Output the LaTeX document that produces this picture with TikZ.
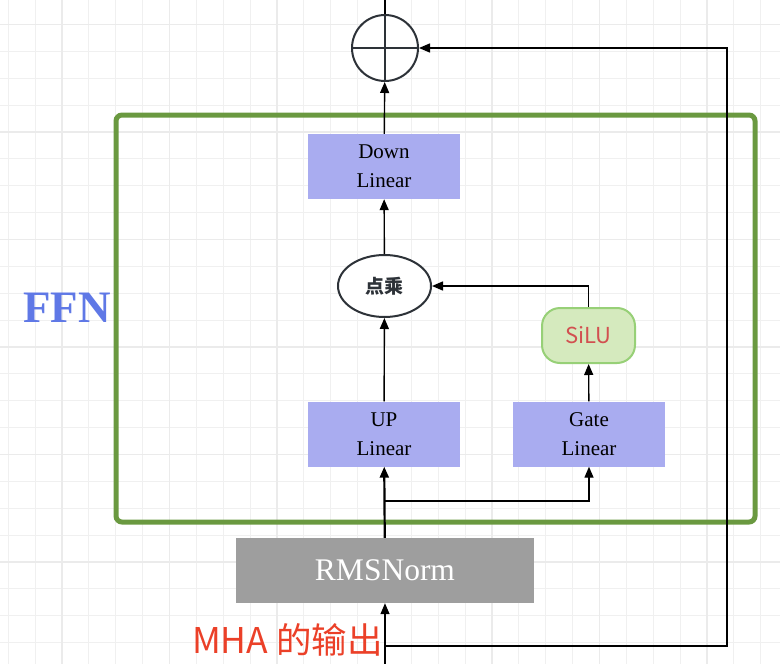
\documentclass[tikz,border=0pt]{standalone}
\usepackage{fontspec}
\setmainfont{Liberation Serif}
\newfontfamily\cjk{Noto Sans CJK SC}
\usepackage{tikz}
\usepackage{xcolor}
\usetikzlibrary{positioning, calc, arrows.meta, shapes.geometric}

\definecolor{boxblue}{RGB}{169,172,240}
\definecolor{normgray}{RGB}{158,158,158}
\definecolor{ffngreen}{RGB}{106,153,64}
\definecolor{silufill}{RGB}{213,234,190}
\definecolor{siluline}{RGB}{151,208,119}
\definecolor{silutext}{RGB}{210,80,80}
\definecolor{mhared}{RGB}{235,64,40}
\definecolor{ffnblue}{RGB}{95,120,230}
\definecolor{darkline}{RGB}{45,50,56}

\begin{document}
\begin{tikzpicture}[x=1pt, y=-1pt,
    linbox/.style={rectangle, fill=boxblue, minimum width=152pt, minimum height=65pt, inner sep=0pt, align=center, font=\fontsize{21}{29}\selectfont},
    arr/.style={-{Triangle[length=11pt,width=9pt]}, line width=1.4pt, black},
    gridminor/.style={color=black!6, line width=1pt},
    gridmajor/.style={color=black!8, line width=1.2pt}]
    \useasboundingbox (0,0) rectangle (780,664);
    % background grid
    \foreach \i in {0,...,28} {
        \draw[gridminor] (8.25+26.875*\i,0) -- (8.25+26.875*\i,664);
    }
    \foreach \j in {0,...,24} {
        \draw[gridminor] (0,24.5+26.875*\j) -- (780,24.5+26.875*\j);
    }
    \foreach \i in {0,...,6} {
        \draw[gridmajor] (62+107.5*\i,0) -- (62+107.5*\i,664);
    }
    \foreach \j in {0,...,6} {
        \draw[gridmajor] (0,24.5+107.5*\j) -- (780,24.5+107.5*\j);
    }

    % FFN block
    \draw[ffngreen, line width=5pt, rounded corners=6pt] (116,115) rectangle (755,522);
    \node[text=ffnblue, font=\fontsize{45}{45}\selectfont\bfseries] (ffn) at (67,308) {FFN};

    % nodes
    \node[circle, draw=darkline, line width=2pt, minimum size=66pt, inner sep=0pt, fill=white] (plus) at (385,48) {};
    \draw[darkline, line width=2pt] (plus.north) -- (plus.south) (plus.west) -- (plus.east);
    \coordinate (top) at (385,0);
    \node[linbox] (down) at (384,166.5) {Down\\Linear};
    \node[ellipse, draw=darkline, line width=2pt, fill=white, minimum width=93pt, minimum height=62pt, inner sep=0pt, font=\cjk\bfseries\fontsize{19}{19}\selectfont, text=darkline] (dot) at (384.5,286) {点乘};
    \node[rectangle, rounded corners=18pt, draw=siluline, line width=2pt, fill=silufill, minimum width=93pt, minimum height=55pt, inner sep=0pt, text=silutext, font=\cjk\fontsize{22}{22}\selectfont] (silu) at (588.5,335.5) {SiLU};
    \node[linbox] (up) at (384,434) {UP\\Linear};
    \node[linbox] (gate) at (589,434) {Gate\\Linear};
    \node[rectangle, fill=normgray, minimum width=298pt, minimum height=65pt, inner sep=0pt, text=white, font=\fontsize{31.5}{31.5}\selectfont] (rms) at (385,570.5) {RMSNorm};
    \node[text=mhared, font=\cjk\fontsize{35.5}{35.5}\selectfont, anchor=east, inner sep=1pt] (mha) at (384,640) {MHA 的输出};

    % connectors
    \coordinate (in) at (385,664);
    \coordinate (skip) at (385,646);
    \coordinate (turn) at (727,646);
    \coordinate (split) at (385,501);
    \draw[arr] (in) -- (rms);
    \draw[arr, line width=2.2pt] (rms) -- (up);
    \draw[arr] (split) -| (gate);
    \draw[arr] (skip) -- (turn) |- (plus.east);
    \draw[arr] (up) -- (dot);
    \draw[arr] (gate) -- (silu);
    \draw[arr] (silu.north) |- (dot.east);
    \draw[arr] (dot) -- (down);
    \draw[arr] (down) -- (plus);
    \draw[line width=1.4pt] (plus) -- (top);
\end{tikzpicture}
\end{document}
